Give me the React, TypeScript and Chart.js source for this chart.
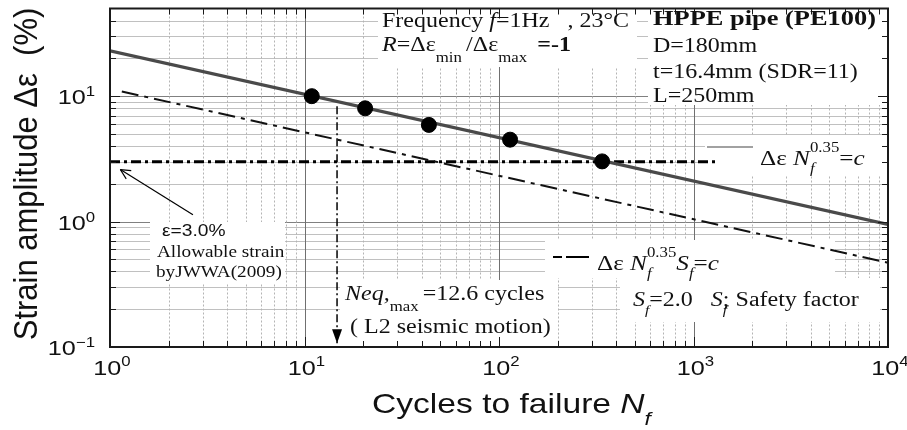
import React, { useEffect, useRef } from "react";
import { Chart, registerables } from "chart.js";

Chart.register(...registerables);

// ---- data ----
const xDecades = [1, 10, 100, 1000, 10000];
const xTickExponents = ["0", "1", "2", "3", "4"];
const yDecades = [0.1, 1, 10];
const yTickExponents = ["\u22121", "0", "1"];
const minorMultipliers = [1, 2, 3, 4, 5, 6, 7, 8, 9];

const testCycles = [10.9, 20.5, 43.6, 114, 339];
const testStrain = [10.0, 8.0, 5.9, 4.5, 3.02];
const fitCycles = [1, 10000];
const fitStrain = [23.0, 0.95];
const safetyCycles = [1.15, 10000];
const safetyStrain = [10.9, 0.47];
const allowableCycles = [1, 1340];
const allowableStrain = [3, 3];
const neqCycles = [14.7, 14.7];
const neqStrain = [8.3, 0.107];
const pointerCycles = [2.67, 1.13];
const pointerStrain = [1.135, 2.6];

const SX = 1.2;
const SERIF = "'Liberation Serif', 'Times New Roman', serif";
const SANS = "'Liberation Sans', Arial, sans-serif";

type Seg = { t: string; size?: number; style?: string; dy?: number; adv?: boolean; family?: string };

function fontOf(s: Seg, base: number, family: string) {
  const size = s.size ?? base;
  return `${s.style ? s.style + " " : ""}${size}px ${s.family ?? family}`;
}

function richWidth(ctx: CanvasRenderingContext2D, segs: Seg[], base: number, family: string) {
  let w = 0;
  ctx.save();
  for (const s of segs) {
    ctx.font = fontOf(s, base, family);
    if (s.adv !== false) w += ctx.measureText(s.t).width;
  }
  ctx.restore();
  return w * SX;
}

function rich(ctx: CanvasRenderingContext2D, x: number, y: number, segs: Seg[], base = 20, family = SERIF) {
  ctx.save();
  ctx.translate(x, y);
  ctx.scale(SX, 1);
  ctx.textBaseline = "alphabetic";
  ctx.textAlign = "left";
  ctx.fillStyle = "#111";
  let cx = 0;
  for (const s of segs) {
    ctx.font = fontOf(s, base, family);
    ctx.fillText(s.t, cx, s.dy ?? 0);
    if (s.adv !== false) cx += ctx.measureText(s.t).width;
  }
  ctx.restore();
}

const boxes: [number, number, number, number][] = [
  [378, 5, 259, 62],
  [648, 5, 238, 100],
  [705, 136, 181, 40],
  [545, 240, 290, 38],
  [620, 278, 260, 44],
  [150, 222, 135, 62],
  [340, 280, 218, 66],
];

function line(ctx: CanvasRenderingContext2D, x1: number, y1: number, x2: number, y2: number) {
  ctx.beginPath();
  ctx.moveTo(x1, y1);
  ctx.lineTo(x2, y2);
  ctx.stroke();
}

const decorPlugin = {
  id: "decor",
  beforeDatasetsDraw(chart: any) {
    const { ctx, chartArea: a } = chart;
    const xs = chart.scales.x;
    const ys = chart.scales.y;
    ctx.save();
    ctx.fillStyle = "#fff";
    ctx.fillRect(a.left, a.top, a.right - a.left, a.bottom - a.top);
    ctx.lineWidth = 1;
    for (const d of yDecades) {
      for (const m of minorMultipliers) {
        const v = d * m;
        if (v <= ys.min * 1.0001 || v >= ys.max * 0.9999) continue;
        const py = Math.round(ys.getPixelForValue(v)) + 0.5;
        ctx.strokeStyle = m === 1 ? "#808080" : "#c0c0c0";
        ctx.setLineDash([]);
        line(ctx, a.left, py, a.right, py);
      }
    }
    for (const d of xDecades) {
      for (const m of minorMultipliers) {
        const v = d * m;
        if (v <= xs.min * 1.0001 || v >= xs.max * 0.9999) continue;
        const px = Math.round(xs.getPixelForValue(v)) + 0.5;
        if (m === 1) {
          ctx.strokeStyle = "#707070";
          ctx.setLineDash([]);
        } else {
          ctx.strokeStyle = "#b4b4b4";
          ctx.setLineDash([2, 2]);
        }
        line(ctx, px, a.top, px, a.bottom);
      }
    }
    ctx.setLineDash([]);
    ctx.fillStyle = "#fff";
    for (const b of boxes) ctx.fillRect(b[0], b[1], b[2], b[3]);
    ctx.restore();
  },
  afterDatasetsDraw(chart: any) {
    const { ctx } = chart;
    const xs = chart.scales.x;
    const ys = chart.scales.y;
    ctx.save();
    // Neq arrow head (filled)
    const tx = xs.getPixelForValue(neqCycles[1]);
    const ty = ys.getPixelForValue(neqStrain[1]);
    ctx.fillStyle = "#000";
    ctx.beginPath();
    ctx.moveTo(tx, ty);
    ctx.lineTo(tx - 5, ty - 14);
    ctx.lineTo(tx + 5, ty - 14);
    ctx.closePath();
    ctx.fill();
    // pointer arrow head (open)
    const sx = xs.getPixelForValue(pointerCycles[0]);
    const sy = ys.getPixelForValue(pointerStrain[0]);
    const ex = xs.getPixelForValue(pointerCycles[1]);
    const ey = ys.getPixelForValue(pointerStrain[1]);
    const ang = Math.atan2(ey - sy, ex - sx);
    ctx.strokeStyle = "#000";
    ctx.lineWidth = 1.2;
    for (const s of [-0.45, 0.45]) {
      line(ctx, ex, ey, ex - 11 * Math.cos(ang + s), ey - 11 * Math.sin(ang + s));
    }
    // legend samples
    ctx.strokeStyle = "#444";
    ctx.lineWidth = 1.2;
    line(ctx, 707, 147, 753, 147);
    ctx.strokeStyle = "#000";
    ctx.lineWidth = 2;
    line(ctx, 553, 257, 562, 257);
    line(ctx, 566, 257, 589, 257);
    ctx.restore();
  },
  afterDraw(chart: any) {
    const { ctx, chartArea: a } = chart;
    const xs = chart.scales.x;
    const ys = chart.scales.y;
    ctx.save();
    // frame
    ctx.strokeStyle = "#1a1a1a";
    ctx.lineWidth = 2;
    ctx.strokeRect(a.left, a.top, a.right - a.left, a.bottom - a.top);
    // inward ticks
    ctx.lineWidth = 1;
    for (const d of yDecades) {
      for (const m of minorMultipliers) {
        const v = d * m;
        if (v <= ys.min * 1.0001 || v >= ys.max * 0.9999) continue;
        const py = Math.round(ys.getPixelForValue(v)) + 0.5;
        const L = m === 1 ? 10 : 6;
        line(ctx, a.left, py, a.left + L, py);
        line(ctx, a.right, py, a.right - L, py);
      }
    }
    for (const d of xDecades) {
      for (const m of minorMultipliers) {
        const v = d * m;
        if (v <= xs.min * 1.0001 || v >= xs.max * 0.9999) continue;
        const px = Math.round(xs.getPixelForValue(v)) + 0.5;
        const L = m === 1 ? 10 : 6;
        line(ctx, px, a.bottom, px, a.bottom - L);
        line(ctx, px, a.top, px, a.top + L);
      }
    }
    // tick labels
    xDecades.forEach((d, i) => {
      const px = xs.getPixelForValue(d);
      const segs: Seg[] = [{ t: "10" }, { t: xTickExponents[i], size: 14, dy: -9 }];
      const w = richWidth(ctx, segs, 21, SANS);
      rich(ctx, px - w / 2 + 2, 375, segs, 21, SANS);
    });
    yDecades.forEach((d, i) => {
      const py = ys.getPixelForValue(d);
      const segs: Seg[] = [{ t: "10" }, { t: yTickExponents[i], size: 14, dy: -8 }];
      const w = richWidth(ctx, segs, 21, SANS);
      rich(ctx, 95 - w, py + 8, segs, 21, SANS);
    });
    // axis titles
    rich(ctx, 372, 413, [
      { t: "Cycles to failure " },
      { t: "N", style: "italic" },
      { t: "f", style: "italic", size: 19, dy: 12 },
    ], 28, SANS);
    ctx.save();
    ctx.translate(37, 174);
    ctx.scale(1.08, 1);
    ctx.rotate(-Math.PI / 2);
    ctx.font = `31px ${SANS}`;
    ctx.fillStyle = "#111";
    ctx.textAlign = "center";
    ctx.fillText("Strain amplitude \u0394\u03b5  (%)", 0, 0);
    ctx.restore();

    // annotations
    rich(ctx, 382, 27, [
      { t: "Frequency " },
      { t: "f", style: "italic" },
      { t: "=1Hz   , 23\u00b0C" },
    ]);
    rich(ctx, 382, 51, [
      { t: "R", style: "italic" },
      { t: "=\u0394\u03b5" },
      { t: "min ", size: 14, dy: 11 },
      { t: "/\u0394\u03b5" },
      { t: "max ", size: 14, dy: 11 },
      { t: " =-1", style: "bold" },
    ]);
    rich(ctx, 653, 25, [{ t: "HPPE pipe (PE100)", style: "bold" }], 22);
    rich(ctx, 653, 52, [{ t: "D=180mm" }]);
    rich(ctx, 653, 78, [{ t: "t=16.4mm (SDR=11)" }]);
    rich(ctx, 653, 102, [{ t: "L=250mm" }]);

    rich(ctx, 760, 165, [
      { t: "\u0394\u03b5 " },
      { t: "N", style: "italic" },
      { t: "f", style: "italic", size: 14, dy: 8, adv: false },
      { t: "0.35", size: 14, dy: -13 },
      { t: "=" },
      { t: "c", style: "italic" },
    ], 21);
    rich(ctx, 597, 270, [
      { t: "\u0394\u03b5 " },
      { t: "N", style: "italic" },
      { t: "f", style: "italic", size: 14, dy: 8, adv: false },
      { t: "0.35", size: 14, dy: -13 },
      { t: "S", style: "italic" },
      { t: "f", style: "italic", size: 14, dy: 8 },
      { t: "=" },
      { t: "c", style: "italic" },
    ], 21);
    rich(ctx, 633, 306, [
      { t: "S", style: "italic" },
      { t: "f", style: "italic", size: 13, dy: 8 },
      { t: "=2.0   " },
      { t: "S", style: "italic" },
      { t: "f", style: "italic", size: 13, dy: 8, adv: false },
      { t: "; Safety factor" },
    ]);

    rich(ctx, 162, 236, [{ t: "\u03b5=3.0%" }], 16, SANS);
    rich(ctx, 157, 257, [{ t: "Allowable strain" }], 16);
    rich(ctx, 156, 277, [{ t: "byJWWA(2009)" }], 16);

    rich(ctx, 345, 300, [
      { t: "Neq,", style: "italic" },
      { t: "max ", size: 14, dy: 11 },
      { t: "=12.6 cycles" },
    ]);
    rich(ctx, 350, 333, [{ t: "( L2 seismic motion)" }]);
    ctx.restore();
  },
};

const pts = (xs: number[], ys: number[]) => xs.map((x, i) => ({ x, y: ys[i] }));

export default function App() {
  const ref = useRef<HTMLCanvasElement | null>(null);
  useEffect(() => {
    if (!ref.current) return;
    const chart = new Chart(ref.current, {
      type: "scatter",
      data: {
        datasets: [
          {
            label: "tests",
            data: pts(testCycles, testStrain),
            showLine: false,
            pointRadius: 7.5,
            pointBackgroundColor: "#000",
            pointBorderColor: "#000",
          },
          {
            label: "fit",
            data: pts(fitCycles, fitStrain),
            showLine: true,
            borderColor: "#4a4a4a",
            borderWidth: 3.4,
            pointRadius: 0,
          },
          {
            label: "safety",
            data: pts(safetyCycles, safetyStrain),
            showLine: true,
            borderColor: "#111",
            borderWidth: 2,
            borderDash: [17, 6, 4, 6],
            pointRadius: 0,
          },
          {
            label: "allowable",
            data: pts(allowableCycles, allowableStrain),
            showLine: true,
            borderColor: "#000",
            borderWidth: 3,
            borderDash: [10, 4, 3, 4],
            pointRadius: 0,
          },
          {
            label: "neq",
            data: pts(neqCycles, neqStrain),
            showLine: true,
            borderColor: "#000",
            borderWidth: 1.5,
            borderDash: [8, 3, 2, 3],
            pointRadius: 0,
          },
          {
            label: "pointer",
            data: pts(pointerCycles, pointerStrain),
            showLine: true,
            borderColor: "#000",
            borderWidth: 1.2,
            pointRadius: 0,
          },
        ],
      },
      options: {
        animation: false,
        responsive: false,
        devicePixelRatio: 1,
        layout: { padding: { top: 4, right: 19, left: 0, bottom: 0 } },
        plugins: { legend: { display: false }, tooltip: { enabled: false } },
        scales: {
          x: {
            type: "logarithmic",
            min: 1,
            max: 10000,
            ticks: { display: false },
            grid: { display: false },
            border: { display: false },
            afterFit: (s: any) => {
              s.height = 83;
            },
          },
          y: {
            type: "logarithmic",
            min: 0.1,
            max: 50,
            ticks: { display: false },
            grid: { display: false },
            border: { display: false },
            afterFit: (s: any) => {
              s.width = 110;
            },
          },
        },
      } as any,
      plugins: [decorPlugin],
    });
    return () => chart.destroy();
  }, []);
  return (
    <div style={{ position: "absolute", left: 0, top: 0, width: 907, height: 430, background: "#fff" }}>
      <canvas ref={ref} width={907} height={430} style={{ display: "block" }} />
    </div>
  );
}
